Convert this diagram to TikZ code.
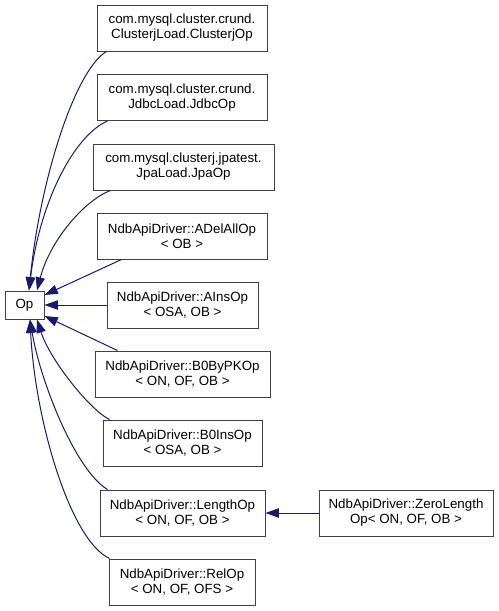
\documentclass[tikz,border=0pt]{standalone}
\usepackage{fontspec}
\setmainfont{Liberation Sans}
\usetikzlibrary{arrows.meta,calc}
\definecolor{midblue}{HTML}{191970}
\begin{document}
\begin{tikzpicture}[x=0.75pt,y=-0.75pt,
  cls/.style={draw=black!75, line width=0.75pt, fill=white, inner sep=0pt, align=center,
    minimum height=34.5pt, minimum width=#1*0.75pt, font=\fontsize{10}{11.25}\selectfont},
  inh/.style={draw=midblue, line width=0.75pt, -{Triangle[length=10pt,width=7pt]}}]
\useasboundingbox (0,0) rectangle (499,611);

\node[cls=39, minimum height=21pt] (op) at (24.5,305) {Op};
\node[cls=170] (cj) at (182,28) {com.mysql.cluster.crund.\\ClusterjLoad.ClusterjOp};
\node[cls=170] (jd) at (182,97.5) {com.mysql.cluster.crund.\\JdbcLoad.JdbcOp};
\node[cls=181] (jp) at (183.5,167) {com.mysql.clusterj.jpatest.\\JpaLoad.JpaOp};
\node[cls=170] (ad) at (182,236) {NdbApiDriver::ADelAllOp\\< OB >};
\node[cls=151] (ai) at (182.5,305) {NdbApiDriver::AInsOp\\< OSA, OB >};
\node[cls=175] (bp) at (182.5,374) {NdbApiDriver::B0ByPKOp\\< ON, OF, OB >};
\node[cls=159] (bi) at (182.5,443) {NdbApiDriver::B0InsOp\\< OSA, OB >};
\node[cls=165] (lo) at (182.5,513) {NdbApiDriver::LengthOp\\< ON, OF, OB >};
\node[cls=174] (zl) at (406,513) {NdbApiDriver::ZeroLength\\Op< ON, OF, OB >};
\node[cls=146] (ro) at (182,582) {NdbApiDriver::RelOp\\< ON, OF, OFS >};

\draw[inh] ($(cj.south west)+(10,0)$) .. controls (75,70) and (40,180) .. ($(op.north)+(4.5,0)$);
\draw[inh] ($(jd.south west)+(11,0)$) .. controls (75,135) and (40,200) .. ($(op.north)+(4.5,0)$);
\draw[inh] ($(jp.south west)+(18,0)$) .. controls (85,200) and (50,240) .. ($(op.north)+(12.5,0)$);
\draw[inh] ($(ad.south west)+(25,0)$) -- ($(op.east)+(0,-10)$);
\draw[inh] (ai.west) -- (op.east);
\draw[inh] ($(bp.north west)+(23,0)$) -- ($(op.east)+(0,11)$);
\draw[inh] ($(bi.north west)+(7,0)$) .. controls (90,410) and (50,360) .. ($(op.south)+(12.5,0)$);
\draw[inh] ($(lo.north west)+(8,0)$) .. controls (75,470) and (40,380) .. ($(op.south)+(5.5,0)$);
\draw[inh] ($(ro.north west)+(1,0)$) .. controls (70,540) and (35,420) .. ($(op.south)+(5.5,0)$);
\draw[inh] (zl.west) -- (lo.east);
\end{tikzpicture}
\end{document}
